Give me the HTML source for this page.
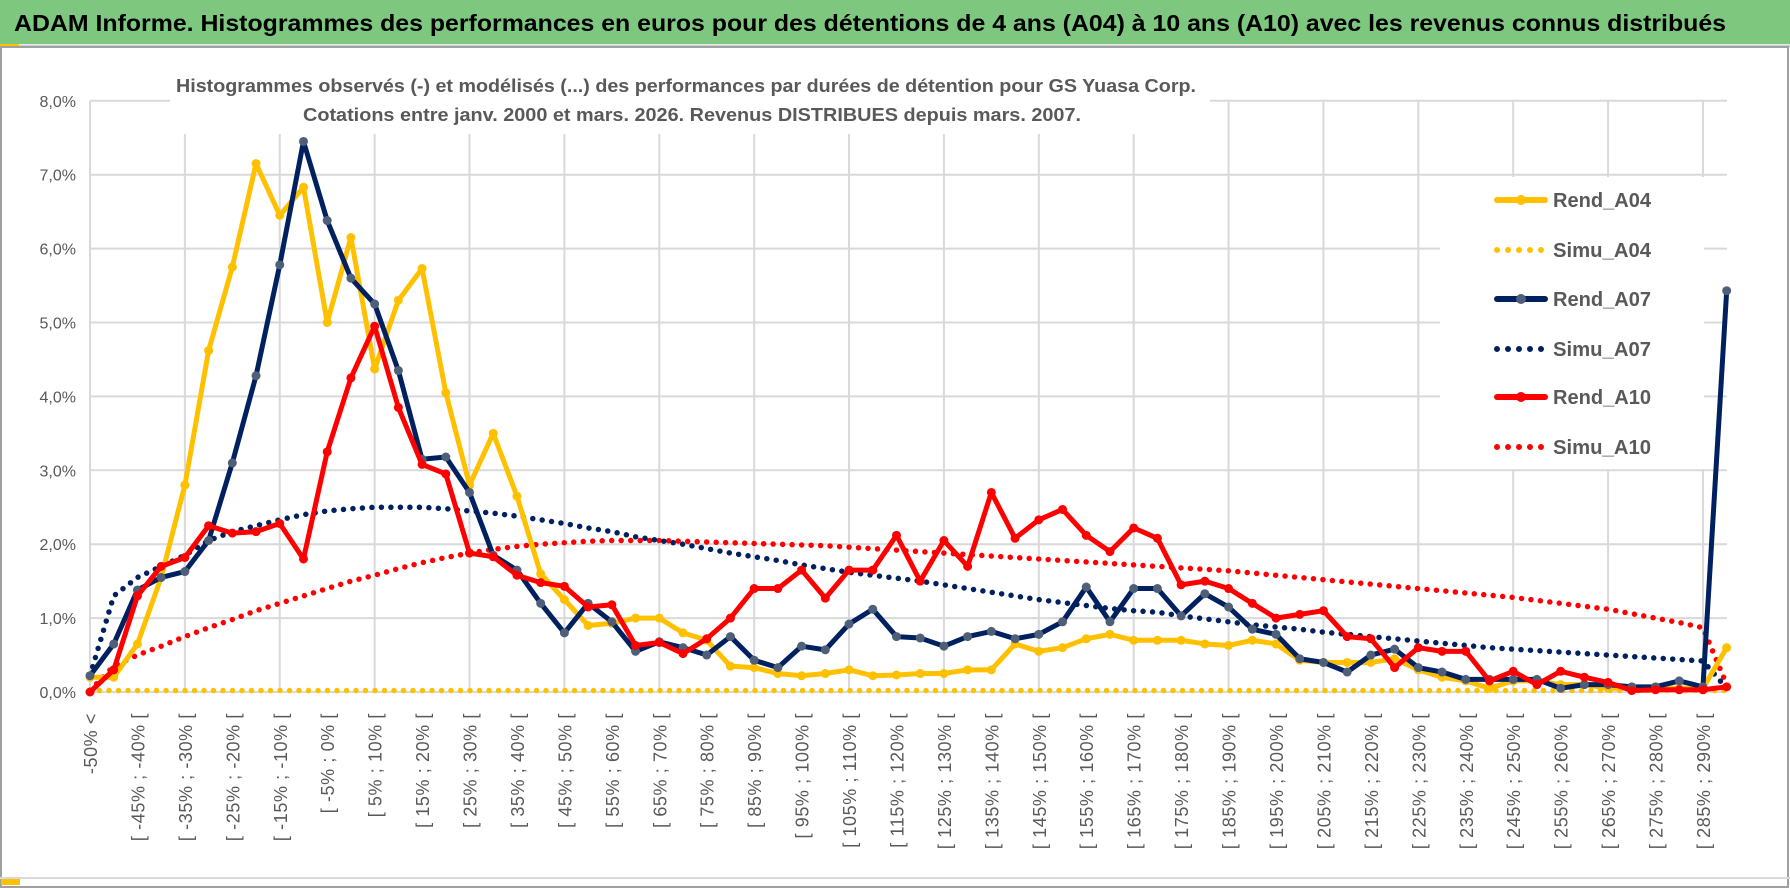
<!DOCTYPE html>
<html><head><meta charset="utf-8"><style>
html,body{margin:0;padding:0;background:#fff}
svg{display:block}
text{font-family:"Liberation Sans",sans-serif}
</style></head><body>
<svg id="chart" width="1790" height="888" viewBox="0 0 1790 888" xmlns="http://www.w3.org/2000/svg">
<rect x="0" y="0" width="1790" height="888" fill="#fff"/>
<rect x="0" y="0" width="1790" height="44" fill="#7DC77F"/>
<line x1="0" y1="46" x2="1790" y2="46" stroke="#d0d0d0" stroke-width="3"/>
<text x="14" y="31" font-size="23" font-weight="bold" fill="#000" textLength="1712" lengthAdjust="spacingAndGlyphs">ADAM Informe. Histogrammes des performances en euros pour des détentions de 4 ans (A04) à 10 ans (A10) avec les revenus connus distribués</text>
<rect x="0" y="44" width="19" height="4" fill="#FFC000"/>
<rect x="1" y="47" width="1787" height="840" fill="none" stroke="#a0a0a0" stroke-width="2"/>
<line x1="0" y1="878" x2="1790" y2="878" stroke="#d9d9d9" stroke-width="2"/>
<rect x="1" y="879" width="19" height="6" fill="#FFC000"/>
<g id="grid"></g>
<rect x="170" y="68" width="1040" height="66" fill="#fff"/>
<text x="176" y="92" font-size="18" font-weight="bold" fill="#595959" textLength="1020" lengthAdjust="spacingAndGlyphs">Histogrammes observés (-) et modélisés (...) des performances par durées de détention pour GS Yuasa Corp.</text>
<text x="303" y="121" font-size="18" font-weight="bold" fill="#595959" textLength="778" lengthAdjust="spacingAndGlyphs">Cotations entre janv. 2000 et mars. 2026. Revenus DISTRIBUES depuis mars. 2007.</text>
<g id="series"></g>
<rect x="1440" y="177" width="264" height="292" fill="#fff"/>
<g id="legend"></g>
<g id="xlabels"></g>
<g id="ylabels"></g>
</svg>
<script>
const categories = (function(){const c=["-50% <"];for(let a=-50;a<=290;a+=5){c.push("[ "+a+"% ; "+(a+5)+"% [");}return c;})().slice(0,70);
const yTicks = [0,1,2,3,4,5,6,7,8];
const yTickLabels = ["0,0%","1,0%","2,0%","3,0%","4,0%","5,0%","6,0%","7,0%","8,0%"];
const rendA04 = [0.2,0.2,0.65,1.55,2.8,4.62,5.75,7.15,6.45,6.83,5.0,6.15,4.37,5.3,5.73,4.05,2.8,3.5,2.65,1.6,1.25,0.9,0.93,1.0,1.0,0.8,0.7,0.35,0.33,0.25,0.22,0.25,0.3,0.22,0.23,0.25,0.25,0.3,0.3,0.65,0.55,0.6,0.72,0.78,0.7,0.7,0.7,0.65,0.63,0.7,0.65,0.43,0.4,0.4,0.4,0.45,0.3,0.2,0.15,0.05,0.15,0.15,0.1,0.1,0.05,0.05,0.05,0.05,0.05,0.6];
const simuA04 = new Array(70).fill(0.02);
const rendA07 = [0.22,0.65,1.38,1.55,1.63,2.05,3.1,4.28,5.78,7.45,6.38,5.6,5.25,4.35,3.15,3.18,2.7,1.85,1.65,1.2,0.8,1.2,0.95,0.55,0.68,0.6,0.5,0.75,0.43,0.33,0.62,0.57,0.92,1.12,0.75,0.73,0.62,0.75,0.82,0.72,0.78,0.95,1.42,0.95,1.4,1.4,1.03,1.33,1.15,0.85,0.78,0.45,0.4,0.27,0.5,0.58,0.33,0.27,0.17,0.17,0.17,0.17,0.05,0.1,0.1,0.07,0.07,0.15,0.07,5.43];
const simuA07 = [0.22,1.3,1.55,1.7,1.85,2.05,2.17,2.25,2.33,2.4,2.45,2.48,2.5,2.5,2.5,2.48,2.45,2.42,2.38,2.33,2.28,2.22,2.17,2.1,2.05,2.0,1.94,1.88,1.83,1.78,1.72,1.67,1.62,1.58,1.54,1.5,1.45,1.4,1.35,1.3,1.25,1.21,1.17,1.13,1.1,1.08,1.03,0.99,0.95,0.91,0.88,0.85,0.81,0.78,0.75,0.72,0.69,0.66,0.63,0.6,0.58,0.56,0.54,0.52,0.5,0.48,0.46,0.44,0.42,0.05];
const rendA10 = [0.0,0.3,1.3,1.7,1.82,2.25,2.15,2.17,2.28,1.8,3.25,4.25,4.95,3.85,3.08,2.95,1.88,1.83,1.58,1.48,1.43,1.15,1.18,0.63,0.67,0.52,0.72,1.0,1.4,1.4,1.65,1.27,1.65,1.65,2.12,1.5,2.05,1.7,2.7,2.08,2.33,2.47,2.12,1.9,2.22,2.08,1.45,1.5,1.4,1.2,1.0,1.05,1.1,0.75,0.72,0.33,0.6,0.55,0.55,0.15,0.28,0.1,0.28,0.2,0.13,0.02,0.03,0.03,0.03,0.07];
const simuA10 = [0.02,0.35,0.5,0.62,0.75,0.87,0.98,1.1,1.2,1.3,1.4,1.5,1.58,1.67,1.75,1.82,1.88,1.93,1.97,2.0,2.02,2.04,2.05,2.05,2.05,2.04,2.03,2.02,2.01,2.0,1.99,1.98,1.96,1.94,1.92,1.9,1.88,1.86,1.84,1.82,1.8,1.78,1.76,1.74,1.72,1.7,1.68,1.66,1.64,1.61,1.58,1.55,1.52,1.49,1.46,1.43,1.4,1.37,1.34,1.31,1.28,1.24,1.2,1.16,1.12,1.06,1.0,0.94,0.87,0.1];

const NS="http://www.w3.org/2000/svg";
const X0=90, DX=23.72, Y0=692, DY=73.9;
function xS(i){return X0+i*DX;}
function yS(v){return Y0-v*DY;}
function mk(tag,attrs,parent){const e=document.createElementNS(NS,tag);for(const k in attrs)e.setAttribute(k,attrs[k]);parent.appendChild(e);return e;}

const grid=document.getElementById('grid');
yTicks.forEach(t=>{
  const l=mk('line',{x1:X0,x2:1727,y1:yS(t),y2:yS(t),stroke:'#d9d9d9','stroke-width':2},grid);
  
  
});
for(let i=4;i<categories.length;i+=4){
  const l=mk('line',{x1:xS(i),x2:xS(i),y1:yS(8),y2:Y0,stroke:'#d9d9d9','stroke-width':2},grid);
  
  
}
const ax=mk('line',{x1:X0,x2:X0,y1:yS(8),y2:Y0,stroke:'#d9d9d9','stroke-width':2},grid);



const yl=document.getElementById('ylabels');
yTicks.forEach((t,k)=>{
  const e=mk('text',{x:76,y:yS(t)+6,'text-anchor':'end','font-size':16,fill:'#595959'},yl);
  e.textContent=yTickLabels[k];
  
  
});

const xl=document.getElementById('xlabels');
categories.forEach((c,i)=>{
  if(i%2) return;
  const x=xS(i)+7, y=713;
  const e=mk('text',{x:x,y:y,'text-anchor':'end','font-size':18,'letter-spacing':'0.6',fill:'#595959',transform:'rotate(-90 '+x+' '+y+')'},xl);
  e.textContent=c;
  
  
});

const sg=document.getElementById('series');
function dotted(vals,color,name){
  const p=mk('polyline',{points:vals.map((v,i)=>xS(i)+','+yS(v)).join(' '),fill:'none',stroke:color,'stroke-width':5.5,'stroke-linecap':'round','stroke-dasharray':'0 9.5'},sg);
  
  
}
function solid(vals,color,mcol,name){
  const g=mk('g',{},sg);
  
  
  mk('polyline',{points:vals.map((v,i)=>xS(i)+','+yS(v)).join(' '),fill:'none',stroke:color,'stroke-width':5,'stroke-linejoin':'round'},g);
  vals.forEach((v,i)=>{
    const c=mk('circle',{cx:xS(i),cy:yS(v),r:4.5,fill:mcol},g);
    
    
  });
}
dotted(simuA04,'#FFC000','simu-a04-line');
dotted(simuA10,'#FF0000','simu-a10-line');
dotted(simuA07,'#002060','simu-a07-line');
solid(rendA04,'#FFC000','#FFC000','rend-a04-line');
solid(rendA07,'#002060','#4F5F78','rend-a07-line');
solid(rendA10,'#FF0000','#FF0000','rend-a10-line');

const lg=document.getElementById('legend');
const legendNames=['Rend_A04','Simu_A04','Rend_A07','Simu_A07','Rend_A10','Simu_A10'];
const legendColors=['#FFC000','#FFC000','#002060','#002060','#FF0000','#FF0000'];
const legendMarks=['#FFC000',null,'#4F5F78',null,'#FF0000',null];
const legendY=[200,250,299,349,397,447];
legendNames.forEach((n,k)=>{
  const g=mk('g',{},lg);
  
  
  const y=legendY[k];
  if(legendMarks[k]){
    mk('line',{x1:1497,x2:1545,y1:y,y2:y,stroke:legendColors[k],'stroke-width':6,'stroke-linecap':'round'},g);
    mk('circle',{cx:1521,cy:y,r:5,fill:legendMarks[k]},g);
  } else {
    mk('line',{x1:1497,x2:1546,y1:y,y2:y,stroke:legendColors[k],'stroke-width':6,'stroke-linecap':'round','stroke-dasharray':'0 11'},g);
  }
  const t=mk('text',{x:1553,y:y+7,'font-size':20,fill:'#595959','font-weight':'bold',textLength:'98',lengthAdjust:'spacingAndGlyphs'},g);
  t.textContent=n;
});
</script>
</body></html>
